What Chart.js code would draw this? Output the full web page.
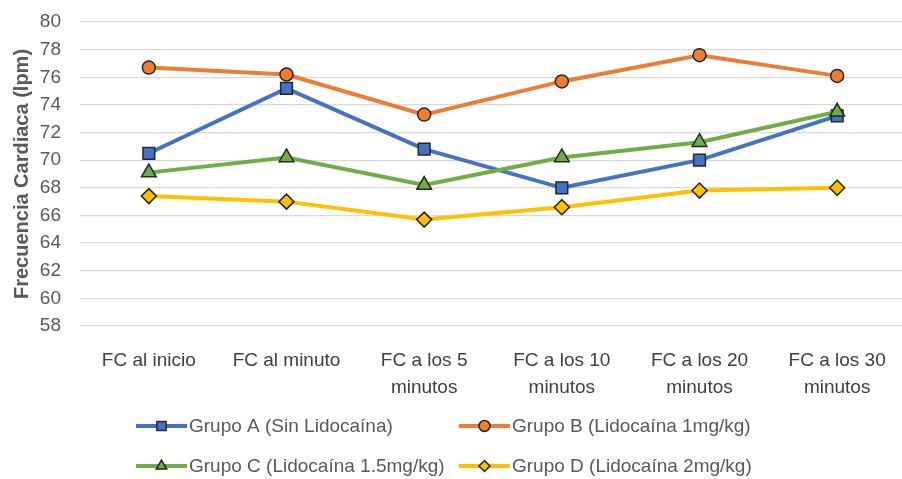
<!DOCTYPE html>
<html>
<head>
<meta charset="utf-8">
<script src="https://cdn.jsdelivr.net/npm/chart.js@4/dist/chart.umd.min.js"></script>
<style>
  html, body { margin: 0; padding: 0; background: #ffffff; overflow: hidden; }
  #wrap { width: 906px; height: 479px; }
</style>
</head>
<body>
<div id="wrap"><canvas id="c" width="906" height="479"></canvas></div>
<script>
// Heart rate over time for four lidocaine dosing groups
const categories = [
  'FC al inicio',
  'FC al minuto',
  ['FC a los 5', 'minutos'],
  ['FC a los 10', 'minutos'],
  ['FC a los 20', 'minutos'],
  ['FC a los 30', 'minutos']
];
const seriesNames = [
  'Grupo A (Sin Lidocaína)',
  'Grupo B (Lidocaína 1mg/kg)',
  'Grupo C (Lidocaína 1.5mg/kg)',
  'Grupo D (Lidocaína 2mg/kg)'
];
const grupoA = [70.5, 75.2, 70.8, 68.0, 70.0, 73.2];
const grupoB = [76.7, 76.2, 73.3, 75.7, 77.6, 76.1];
const grupoC = [69.1, 70.2, 68.2, 70.2, 71.3, 73.5];
const grupoD = [67.4, 67.0, 65.7, 66.6, 67.8, 68.0];
const yMin = 58, yMax = 80, yStep = 2;
const yTitle = 'Frecuencia Cardiaca (lpm)';

const FONT = "'Liberation Sans', Arial, sans-serif";
const colors = ['#4472C4', '#ED7D31', '#70AD47', '#FFC000'];
const shapes = ['rect', 'circle', 'triangle', 'rectRot'];
const radii = [8.3, 6.5, 8.5, 7.5];
const legendRadii = [6.5, 5.5, 6, 5.5];
const allSeries = [grupoA, grupoB, grupoC, grupoD];

const datasets = allSeries.map((vals, i) => ({
  label: seriesNames[i],
  data: vals,
  borderColor: colors[i],
  backgroundColor: colors[i],
  borderWidth: 4,
  pointStyle: shapes[i],
  pointRadius: radii[i],
  pointHoverRadius: radii[i],
  pointBackgroundColor: colors[i],
  pointBorderColor: '#262626',
  pointBorderWidth: 1.5,
  tension: 0,
  order: 3 - i
}));

function drawMarker(ctx, shape, x, y, r) {
  ctx.beginPath();
  if (shape === 'rect') {
    const s = Math.SQRT1_2 * r;
    ctx.rect(x - s, y - s, 2 * s, 2 * s);
  } else if (shape === 'circle') {
    ctx.arc(x, y, r, 0, Math.PI * 2);
  } else if (shape === 'triangle') {
    ctx.moveTo(x, y - r);
    ctx.lineTo(x + r * Math.sin(Math.PI * 2 / 3), y + r * 0.5);
    ctx.lineTo(x - r * Math.sin(Math.PI * 2 / 3), y + r * 0.5);
    ctx.closePath();
  } else {
    ctx.moveTo(x, y - r);
    ctx.lineTo(x + r, y);
    ctx.lineTo(x, y + r);
    ctx.lineTo(x - r, y);
    ctx.closePath();
  }
  ctx.fill();
  ctx.stroke();
}

// Two-column legend below the axis, line sample with marker in the middle
const legendPlugin = {
  id: 'twoColLegend',
  afterDraw(chart) {
    const ctx = chart.ctx;
    const colX = [136, 459];
    const rowY = [426, 466];
    const lineLen = 51;
    ctx.save();
    chart.data.datasets.forEach((ds, i) => {
      const x0 = colX[i % 2];
      const y = rowY[Math.floor(i / 2)];
      ctx.strokeStyle = ds.borderColor;
      ctx.lineWidth = 4;
      ctx.beginPath();
      ctx.moveTo(x0, y);
      ctx.lineTo(x0 + lineLen, y);
      ctx.stroke();
      ctx.fillStyle = ds.borderColor;
      ctx.strokeStyle = '#262626';
      ctx.lineWidth = 1.5;
      drawMarker(ctx, ds.pointStyle, x0 + lineLen / 2, y, legendRadii[i]);
      ctx.fillStyle = '#595959';
      ctx.font = '19px ' + FONT;
      ctx.textBaseline = 'middle';
      ctx.textAlign = 'left';
      ctx.fillText(ds.label, x0 + lineLen + 2, y + 1);
    });
    ctx.restore();
  }
};

new Chart(document.getElementById('c'), {
  type: 'line',
  data: { labels: categories, datasets },
  plugins: [legendPlugin],
  options: {
    responsive: false,
    animation: false,
    events: [],
    layout: { autoPadding: false, padding: { top: 22, right: 0, bottom: 0, left: 0 } },
    plugins: { legend: { display: false }, tooltip: { enabled: false } },
    scales: {
      x: {
        offset: true,
        grid: { display: false },
        border: { display: false },
        ticks: {
          color: '#404040',
          font: { family: FONT, size: 19, lineHeight: 1.42 },
          padding: 13.5,
          maxRotation: 0,
          autoSkip: false
        },
        afterFit(scale) {
          scale.height = 153;
          scale.paddingLeft = 0;
          scale.paddingRight = 0;
        }
      },
      y: {
        min: yMin,
        max: yMax,
        grid: { color: '#d9d9d9', lineWidth: 1.3, drawTicks: false },
        border: { display: false },
        ticks: {
          stepSize: yStep,
          color: '#595959',
          font: { family: FONT, size: 19 },
          padding: 19
        },
        title: {
          display: true,
          text: yTitle,
          color: '#595959',
          font: { family: FONT, size: 20, weight: 'bold' },
          padding: { top: 10, bottom: 0 }
        },
        afterFit(scale) {
          scale.width = 80;
          scale.paddingTop = 0;
          scale.paddingBottom = 0;
        }
      }
    }
  }
});
</script>
</body>
</html>
